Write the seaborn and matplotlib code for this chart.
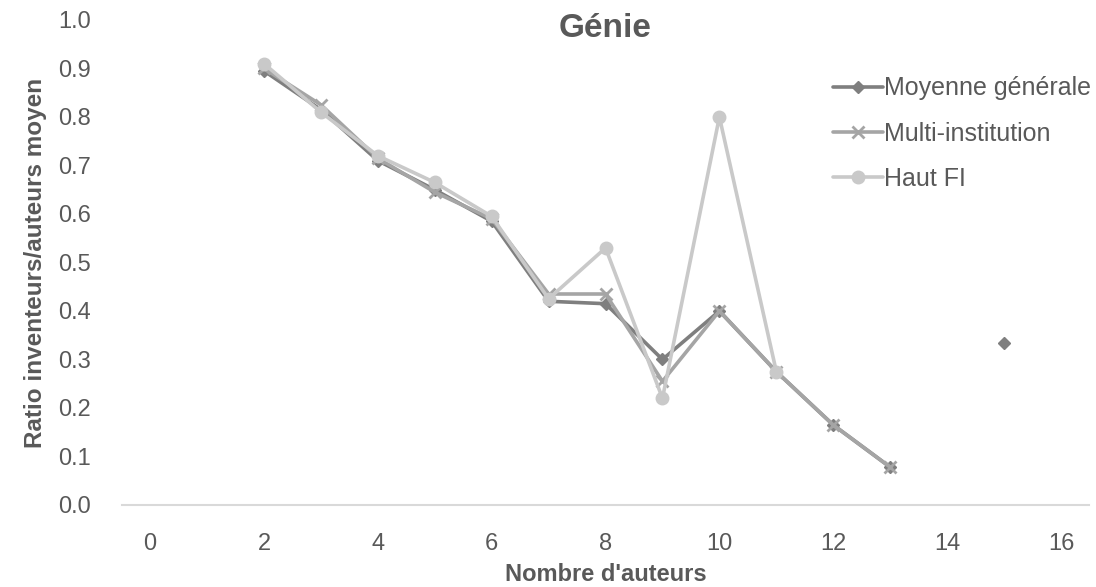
import numpy as np
import pandas as pd
import matplotlib
matplotlib.use("Agg")
import matplotlib.pyplot as plt
import seaborn as sns
from matplotlib import font_manager

# ---- data ----
n_auteurs = [2, 3, 4, 5, 6, 7, 8, 9, 10, 11, 12, 13, 14, 15]
moyenne = [0.895, 0.815, 0.710, 0.650, 0.585, 0.420, 0.415, 0.300, 0.400, 0.275, 0.165, 0.078, np.nan, 0.333]
multi = [0.900, 0.825, 0.715, 0.645, 0.590, 0.435, 0.435, 0.255, 0.400, 0.275, 0.165, 0.078, np.nan, np.nan]
haut_fi = [0.910, 0.810, 0.720, 0.665, 0.595, 0.425, 0.530, 0.220, 0.800, 0.275, np.nan, np.nan, np.nan, np.nan]
series_names = ["Moyenne générale", "Multi-institution", "Haut FI"]
x_ticks = [0, 2, 4, 6, 8, 10, 12, 14, 16]
y_ticks = [0.0, 0.1, 0.2, 0.3, 0.4, 0.5, 0.6, 0.7, 0.8, 0.9, 1.0]

sns.set_theme(style="white")
names = {f.name for f in font_manager.fontManager.ttflist}
fam = "Liberation Sans Narrow" if "Liberation Sans Narrow" in names else "Liberation Sans"
plt.rcParams["font.family"] = [fam, "DejaVu Sans"]

fig = plt.figure(figsize=(10.96, 5.87), dpi=100)
ax = fig.add_axes([0.111, 0.1397, 0.883, 0.8263])

styles = {
    "Moyenne générale": dict(color="#7f7f7f", marker="D", markersize=6, mec="#7f7f7f"),
    "Multi-institution": dict(color="#a5a5a5", marker="x", markersize=8, mew=2, mec="#a5a5a5"),
    "Haut FI": dict(color="#c9c9c9", marker="o", markersize=9, mec="#c9c9c9"),
}

for name, vals in zip(series_names, [moyenne, multi, haut_fi]):
    df = pd.DataFrame({"x": n_auteurs, "y": vals})
    df["seg"] = df["y"].isna().cumsum()
    df = df.dropna()
    first = True
    st = styles[name]
    for _, g in df.groupby("seg"):
        sns.lineplot(data=g, x="x", y="y", ax=ax, color=st["color"], linewidth=2.6,
                     marker=st["marker"], markersize=st["markersize"],
                     markeredgecolor=st["mec"], markeredgewidth=st.get("mew", 1),
                     label=name if first else None, legend=False, estimator=None,
                     sort=False)
        first = False

ax.set_xlim(-0.5, 16.5)
ax.set_ylim(0, 1.0)
ax.set_xticks(x_ticks)
ax.set_yticks(y_ticks)
ax.set_yticklabels([f"{v:.1f}" for v in y_ticks])
ax.tick_params(axis="both", labelsize=17, colors="#595959", length=0)
ax.tick_params(axis="x", pad=20)
ax.tick_params(axis="y", pad=22)
for s in ["top", "right", "left"]:
    ax.spines[s].set_visible(False)
ax.spines["bottom"].set_color("#d9d9d9")
ax.spines["bottom"].set_linewidth(1.5)

ax.set_xlabel("Nombre d'auteurs", fontsize=17, fontweight="bold", color="#595959", labelpad=6)
ax.set_ylabel("Ratio inventeurs/auteurs moyen", fontsize=17.5, fontweight="bold", color="#595959", labelpad=8)
ax.set_title("Génie", fontsize=24, fontweight="bold", color="#595959", pad=-12)

handles, labels = ax.get_legend_handles_labels()
leg = ax.legend(handles, labels, loc="upper right", bbox_to_anchor=(1.025, 0.93), frameon=False,
                fontsize=18, handlelength=2.0, handletextpad=0.05, labelspacing=0.85)
for t in leg.get_texts():
    t.set_color("#595959")

fig.savefig("out.png", dpi=100)
